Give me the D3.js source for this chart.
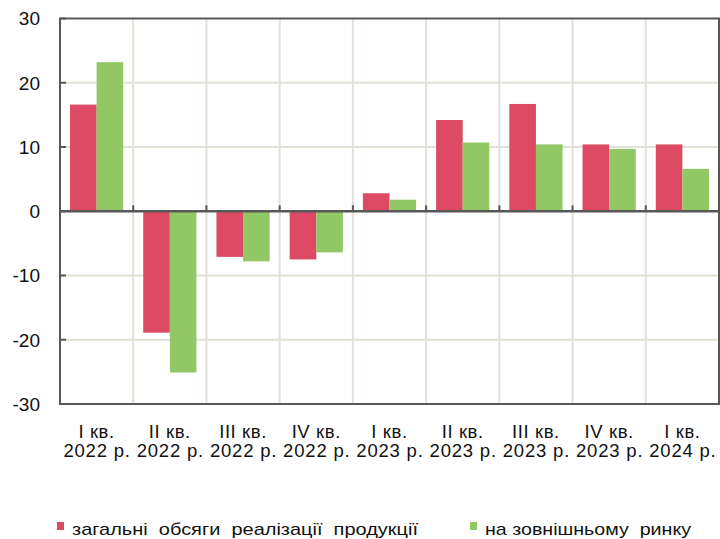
<!DOCTYPE html>
<html>
<head>
<meta charset="utf-8">
<script src="https://cdn.jsdelivr.net/npm/d3@7"></script>
<style>
  body { margin: 0; background: #fff; }
  svg { display: block; font-family: "Liberation Sans", Arial, sans-serif; }
</style>
</head>
<body>
<div id="chart"></div>
<script>
// Data
const quarters = ["I кв.", "II кв.", "III кв.", "IV кв.", "I кв.", "II кв.", "III кв.", "IV кв.", "I кв."];
const years = ["2022 р.", "2022 р.", "2022 р.", "2022 р.", "2023 р.", "2023 р.", "2023 р.", "2023 р.", "2024 р."];
const totalSales = [16.6, -18.9, -7.1, -7.5, 2.8, 14.2, 16.7, 10.4, 10.4];
const foreignSales = [23.2, -25.1, -7.8, -6.4, 1.8, 10.7, 10.4, 9.7, 6.6];
const seriesNames = ["загальні  обсяги  реалізації  продукції", "на зовнішньому  ринку"];
const yTicks = [-30, -20, -10, 0, 10, 20, 30];

const width = 720, height = 539;
const margin = {top: 18.5, right: 1, bottom: 135, left: 60};
const colors = ["#dc4a63", "#92c765"];

const svg = d3.select("#chart").append("svg")
    .attr("width", width)
    .attr("height", height);

const x = d3.scaleBand()
    .domain(d3.range(quarters.length))
    .range([margin.left, width - margin.right])
    .padding(0);

const xInner = d3.scaleBand()
    .domain([0, 1])
    .range([10, x.bandwidth() - 10]);

const y = d3.scaleLinear()
    .domain([-30, 30])
    .range([height - margin.bottom, margin.top]);

// Grid
const grid = svg.append("g").attr("stroke", "#e1e1d5").attr("stroke-width", 2);
grid.selectAll("line.h")
    .data(yTicks.filter(d => d !== 0 && Math.abs(d) !== 30))
    .join("line")
    .attr("x1", margin.left).attr("x2", width - margin.right)
    .attr("y1", d => y(d)).attr("y2", d => y(d));
grid.selectAll("line.v")
    .data(d3.range(1, quarters.length))
    .join("line")
    .attr("x1", d => x(d)).attr("x2", d => x(d))
    .attr("y1", y(30)).attr("y2", y(-30));

// Bars
const groups = svg.append("g")
    .selectAll("g")
    .data(d3.range(quarters.length))
    .join("g")
    .attr("transform", i => `translate(${x(i)},0)`);

groups.selectAll("rect")
    .data(i => [totalSales[i], foreignSales[i]].map((v, s) => ({v, s})))
    .join("rect")
    .attr("x", d => xInner(d.s))
    .attr("width", xInner.bandwidth())
    .attr("y", d => y(Math.max(0, d.v)))
    .attr("height", d => Math.abs(y(d.v) - y(0)))
    .attr("fill", d => colors[d.s]);

// Frame and zero line
const axisColor = "#585858";
svg.append("rect")
    .attr("x", margin.left).attr("y", y(30))
    .attr("width", width - margin.right - margin.left)
    .attr("height", y(-30) - y(30))
    .attr("fill", "none")
    .attr("stroke", axisColor)
    .attr("stroke-width", 2);

svg.append("line")
    .attr("x1", margin.left).attr("x2", width - margin.right)
    .attr("y1", y(0)).attr("y2", y(0))
    .attr("stroke", axisColor).attr("stroke-width", 2.5);

// Category ticks on zero line
svg.append("g").selectAll("line")
    .data(d3.range(1, quarters.length))
    .join("line")
    .attr("x1", d => x(d)).attr("x2", d => x(d))
    .attr("y1", y(0)).attr("y2", y(0) - 6)
    .attr("stroke", axisColor).attr("stroke-width", 2);

// Y ticks (inside) and labels
svg.append("g").selectAll("line")
    .data(yTicks)
    .join("line")
    .attr("x1", margin.left).attr("x2", margin.left + 6)
    .attr("y1", d => y(d)).attr("y2", d => y(d))
    .attr("stroke", axisColor).attr("stroke-width", 2);

svg.append("g").selectAll("text")
    .data(yTicks)
    .join("text")
    .attr("x", 40)
    .attr("y", d => y(d))
    .attr("dy", "0.36em")
    .attr("text-anchor", "end")
    .style("font-size", "19px")
    .attr("fill", "#111")
    .text(d => d);

// X labels, two lines each
const xLabels = svg.append("g")
    .attr("text-anchor", "middle")
    .style("font-size", "18.5px")
    .attr("fill", "#111");
xLabels.selectAll("text.q")
    .data(d3.range(quarters.length))
    .join("text")
    .attr("class", "q")
    .attr("x", i => x(i) + x.bandwidth() / 2)
    .attr("y", 438)
    .style("letter-spacing", "0.6px")
    .text(i => quarters[i]);
xLabels.selectAll("text.yr")
    .data(d3.range(years.length))
    .join("text")
    .attr("class", "yr")
    .attr("x", i => x(i) + x.bandwidth() / 2 + 0.5)
    .attr("y", 457)
    .style("letter-spacing", "0.8px")
    .text(i => years[i]);

// Legend
const legend = [
    {name: seriesNames[0], x: 57, w: 346},
    {name: seriesNames[1], x: 470, w: 206}
];
const lg = svg.append("g").selectAll("g")
    .data(legend)
    .join("g");
lg.append("rect")
    .attr("x", d => d.x).attr("y", 522)
    .attr("width", 7).attr("height", 8)
    .attr("fill", (d, i) => colors[i]);
lg.append("text")
    .attr("x", d => d.x + 15)
    .attr("y", 535)
    .style("font-size", "17px")
    .style("white-space", "pre")
    .attr("xml:space", "preserve")
    .attr("textLength", d => d.w)
    .attr("lengthAdjust", "spacingAndGlyphs")
    .attr("fill", "#111")
    .text(d => d.name);
</script>
</body>
</html>
